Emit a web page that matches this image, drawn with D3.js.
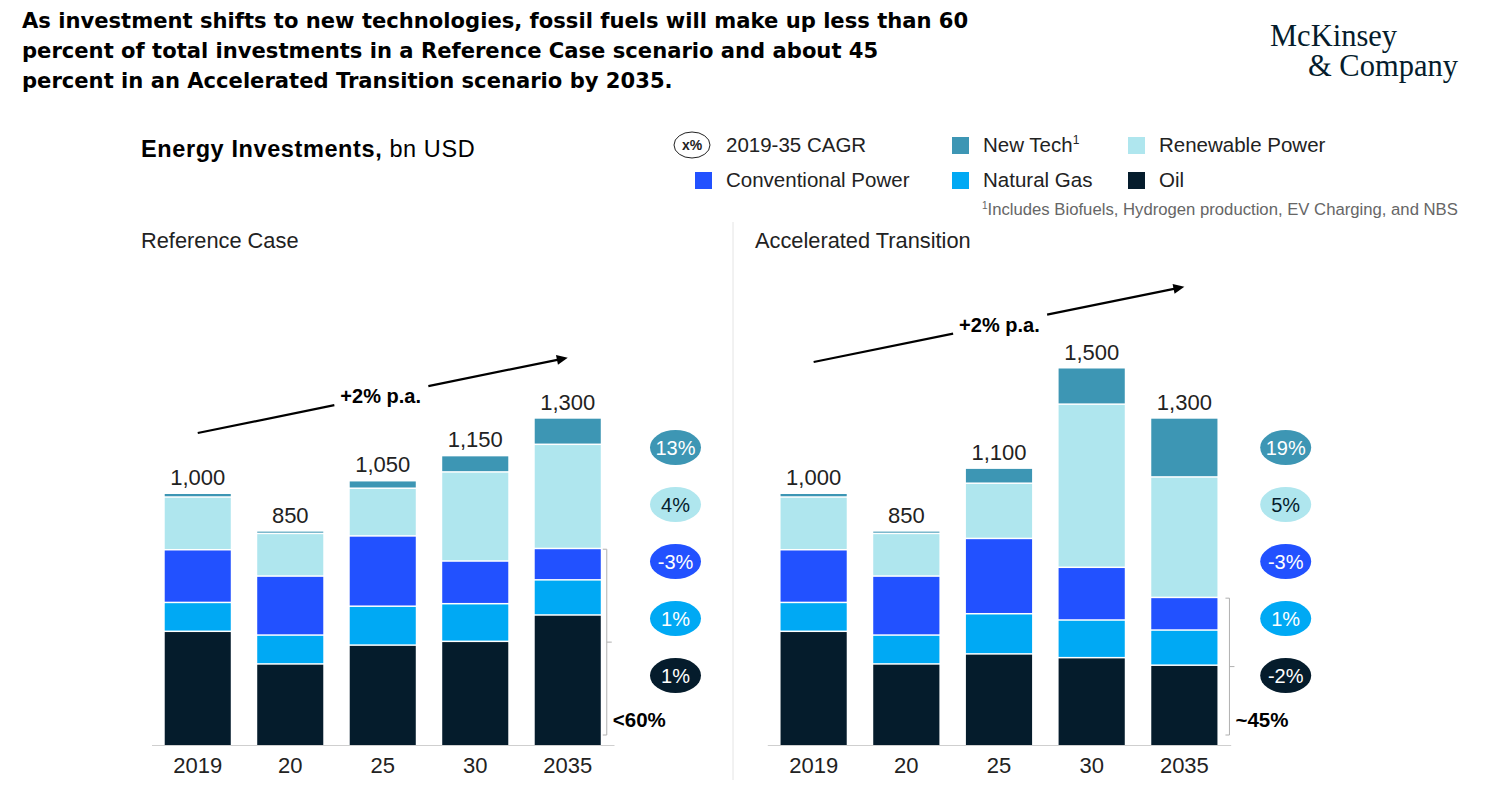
<!doctype html>
<html lang="en">
<head>
    <meta charset="UTF-8">
    <title>Energy Investments</title>
    <script src="https://d3js.org/d3.v7.min.js"></script>
    <style>
        body { margin: 0; background: #fff; }
        text { font-family: "Liberation Sans", Arial, sans-serif; }
    </style>
</head>
<body>
<script>
    // categories
    var years = ["2019", "20", "25", "30", "2035"];
    var seriesNames = ["Oil", "Natural Gas", "Conventional Power", "Renewable Power", "New Tech"];

    // Reference Case, bn USD
    var refOil      = [450, 320, 395, 410, 515];
    var refGas      = [115, 115, 155, 150, 140];
    var refConv     = [210, 235, 280, 170, 125];
    var refRenew    = [210, 170, 190, 355, 415];
    var refNewTech  = [15, 10, 30, 65, 105];
    var refTotals   = ["1,000", "850", "1,050", "1,150", "1,300"];
    // CAGR, top to bottom: New Tech, Renewable, Conventional, Gas, Oil
    var refCagr     = ["13%", "4%", "-3%", "1%", "1%"];

    // Accelerated Transition, bn USD
    var accOil      = [450, 320, 360, 345, 315];
    var accGas      = [115, 115, 160, 150, 140];
    var accConv     = [210, 235, 300, 210, 130];
    var accRenew    = [210, 170, 220, 650, 480];
    var accNewTech  = [15, 10, 60, 145, 235];
    var accTotals   = ["1,000", "850", "1,100", "1,500", "1,300"];
    var accCagr     = ["19%", "5%", "-3%", "1%", "-2%"];

    var colors = {
        "Oil": "#051c2c",
        "Natural Gas": "#00a9f4",
        "Conventional Power": "#2251ff",
        "Renewable Power": "#afe6ee",
        "New Tech": "#3d96b4"
    };
    var width = 1493, height = 786;

    var svg = d3.select("body").append("svg")
        .attr("width", width)
        .attr("height", height);

    // title
    var title = ["As investment shifts to new technologies, fossil fuels will make up less than 60",
                 "percent of total investments in a Reference Case scenario and about 45",
                 "percent in an Accelerated Transition scenario by 2035."];
    svg.append("g").selectAll("text")
        .data(title)
        .enter().append("text")
        .attr("x", 22)
        .attr("y", function(d, i){ return 28 + i * 30; })
        .style("font-family", "'DejaVu Sans', sans-serif")
        .attr("font-size", 21.1)
        .attr("font-weight", "bold")
        .attr("fill", "#000")
        .text(function(d){ return d; });

    // logo
    svg.append("text").attr("x", 1270).attr("y", 46)
        .style("font-family", "'Liberation Serif', 'DejaVu Serif', serif")
        .attr("font-size", 30.5).attr("fill", "#051c2c")
        .text("McKinsey");
    svg.append("text").attr("x", 1308).attr("y", 76)
        .style("font-family", "'Liberation Serif', 'DejaVu Serif', serif")
        .attr("font-size", 30.5).attr("fill", "#051c2c")
        .text("& Company");

    // subtitle
    var sub = svg.append("text").attr("x", 141).attr("y", 157).attr("font-size", 23.5)
        .attr("letter-spacing", 0.6).attr("fill", "#000");
    sub.append("tspan").attr("font-weight", "bold").text("Energy Investments,");
    sub.append("tspan").text(" bn USD");

    // legend
    var legend = svg.append("g").attr("font-size", 20.5).attr("fill", "#222");
    legend.append("ellipse").attr("cx", 692).attr("cy", 145).attr("rx", 18).attr("ry", 13)
        .attr("fill", "none").attr("stroke", "#222").attr("stroke-width", 1);
    legend.append("text").attr("x", 692).attr("y", 150).attr("text-anchor", "middle")
        .attr("font-size", 14).attr("font-weight", "bold").text("x%");
    legend.append("text").attr("x", 726).attr("y", 152).text("2019-35 CAGR");

    var legendItems = [
        {name: "New Tech", x: 952, y: 137, sup: true},
        {name: "Renewable Power", x: 1128, y: 137},
        {name: "Conventional Power", x: 695, y: 172},
        {name: "Natural Gas", x: 952, y: 172},
        {name: "Oil", x: 1128, y: 172}
    ];
    var li = legend.selectAll("g.item").data(legendItems).enter().append("g").attr("class", "item");
    li.append("rect")
        .attr("x", function(d){ return d.x; })
        .attr("y", function(d){ return d.y; })
        .attr("width", 17).attr("height", 17)
        .attr("fill", function(d){ return colors[d.name]; });
    var lt = li.append("text")
        .attr("x", function(d){ return d.x + 31; })
        .attr("y", function(d){ return d.y + 15; })
        .text(function(d){ return d.name; });
    lt.filter(function(d){ return d.sup; }).append("tspan")
        .attr("font-size", 12).attr("dy", -8).text("1");

    var foot = svg.append("text").attr("x", 982).attr("y", 215).attr("font-size", 16.7).attr("fill", "#666");
    foot.append("tspan").attr("font-size", 10).attr("dy", -6).text("1");
    foot.append("tspan").attr("dy", 6).text("Includes Biofuels, Hydrogen production, EV Charging, and NBS");

    // divider
    svg.append("line").attr("x1", 733).attr("x2", 733).attr("y1", 222).attr("y2", 780)
        .attr("stroke", "#e4e4e4").attr("stroke-width", 1);

    // shared value scale
    var y = d3.scaleLinear().domain([0, 1500]).range([745, 745 - 376.5]);

    function panel(cfg) {
        var g = svg.append("g");
        var x = d3.scaleBand().domain(years).range(cfg.range).paddingInner(0.286).paddingOuter(0.143);

        var table = years.map(function(yr, i){
            return {year: yr, "Oil": cfg.oil[i], "Natural Gas": cfg.gas[i],
                    "Conventional Power": cfg.conv[i], "Renewable Power": cfg.renew[i],
                    "New Tech": cfg.newTech[i]};
        });
        var stacked = d3.stack().keys(seriesNames)(table);

        g.append("text").attr("x", cfg.titleX).attr("y", 248).attr("font-size", 21.8)
            .attr("fill", "#222").text(cfg.title);

        g.selectAll("g.layer").data(stacked).enter().append("g").attr("class", "layer")
            .attr("fill", function(d){ return colors[d.key]; })
            .selectAll("rect").data(function(d){ return d; }).enter().append("rect")
            .attr("x", function(d){ return x(d.data.year); })
            .attr("width", x.bandwidth())
            .attr("y", function(d){ return y(d[1]); })
            .attr("height", function(d){
                var h = y(d[0]) - y(d[1]);
                return d[0] === 0 ? h : Math.max(h - 1.5, 0.8);
            });

        // totals
        var top = stacked[stacked.length - 1];
        g.selectAll("text.total").data(top).enter().append("text").attr("class", "total")
            .attr("x", function(d){ return x(d.data.year) + x.bandwidth() / 2; })
            .attr("y", function(d){ return y(d[1]) - 9; })
            .attr("text-anchor", "middle").attr("font-size", 22).attr("fill", "#222")
            .text(function(d, i){ return cfg.totals[i]; });

        // axis
        var axis = g.append("g").attr("transform", "translate(0," + y(0) + ")")
            .call(d3.axisBottom(x).tickSize(0).tickPadding(12));
        axis.select(".domain").attr("stroke", "#cfcfcf").attr("stroke-width", 1.2);
        axis.selectAll("text").attr("font-size", 22).attr("fill", "#222")
            .style("font-family", "'Liberation Sans', Arial, sans-serif");

        // growth arrow
        var x0 = x(years[0]) + x.bandwidth() / 2, x1 = x(years[4]) + x.bandwidth() / 2;
        var y0 = y(top[0][1]) - cfg.arrowDy, y1 = y(top[4][1]) - cfg.arrowDy;
        var t = cfg.textT, tx = x0 + (x1 - x0) * t, ty = y0 + (y1 - y0) * t;
        var ax = tx + 90, ay = y0 + (y1 - y0) * ((ax - x0) / (x1 - x0));
        var bx = tx - 4, by = y0 + (y1 - y0) * ((bx - x0) / (x1 - x0));
        g.append("line").attr("x1", x0).attr("y1", y0).attr("x2", bx).attr("y2", by)
            .attr("stroke", "#000").attr("stroke-width", 2.2);
        g.append("line").attr("x1", ax).attr("y1", ay).attr("x2", x1 - 8).attr("y2", y1 + 8 * (y0 - y1) / (x1 - x0))
            .attr("stroke", "#000").attr("stroke-width", 2.2);
        var ang = Math.atan2(y1 - y0, x1 - x0) * 180 / Math.PI;
        g.append("path").attr("d", "M0,0 L-11,-5 L-11,5 Z").attr("fill", "#000")
            .attr("transform", "translate(" + x1 + "," + y1 + ") rotate(" + ang + ")");
        g.append("text").attr("x", tx + 2).attr("y", ty - 1).attr("font-size", 20)
            .attr("font-weight", "bold").attr("fill", "#000").text("+2% p.a.");

        // CAGR bubbles
        var bubbleColors = [colors["New Tech"], colors["Renewable Power"], colors["Conventional Power"],
                            colors["Natural Gas"], colors["Oil"]];
        var bubbleText = ["#fff", "#051c2c", "#fff", "#fff", "#fff"];
        var bx0 = cfg.range[1] + cfg.bubbleDx;
        var bub = g.selectAll("g.bubble").data(cfg.cagr).enter().append("g").attr("class", "bubble")
            .attr("transform", function(d, i){ return "translate(" + bx0 + "," + (447.5 + i * 57) + ")"; });
        bub.append("ellipse").attr("rx", 25.5).attr("ry", 17.5)
            .attr("fill", function(d, i){ return bubbleColors[i]; });
        bub.append("text").attr("text-anchor", "middle").attr("y", 7).attr("font-size", 20)
            .attr("fill", function(d, i){ return bubbleText[i]; })
            .text(function(d){ return d; });

        // fossil share bracket on 2035
        var last = table[4];
        var fossil = last["Oil"] + last["Natural Gas"] + last["Conventional Power"];
        var brX = x(years[4]) + x.bandwidth() + cfg.bracketDx;
        var bt = y(fossil), bb = y(0) - 10, bm = (bt + bb) / 2;
        g.append("path")
            .attr("d", "M" + (brX - 4) + "," + bt + "H" + brX + "V" + bb + "H" + (brX - 4) +
                       "M" + brX + "," + bm + "h5")
            .attr("fill", "none").attr("stroke", "#b0b0b0").attr("stroke-width", 1);
        g.append("text").attr("x", brX + 6).attr("y", 727).attr("font-size", 20.5)
            .attr("font-weight", "bold").attr("fill", "#000").text(cfg.share);
    }

    panel({title: "Reference Case", titleX: 141, range: [151.5, 614],
           oil: refOil, gas: refGas, conv: refConv, renew: refRenew, newTech: refNewTech,
           totals: refTotals, cagr: refCagr, share: "<60%",
           arrowDy: 61, textT: 0.38, bubbleDx: 61.5, bracketDx: 6});
    panel({title: "Accelerated Transition", titleX: 755, range: [767.3, 1230.7],
           oil: accOil, gas: accGas, conv: accConv, renew: accRenew, newTech: accNewTech,
           totals: accTotals, cagr: accCagr, share: "~45%",
           arrowDy: 132, textT: 0.387, bubbleDx: 55, bracketDx: 12});
</script>
</body>
</html>
